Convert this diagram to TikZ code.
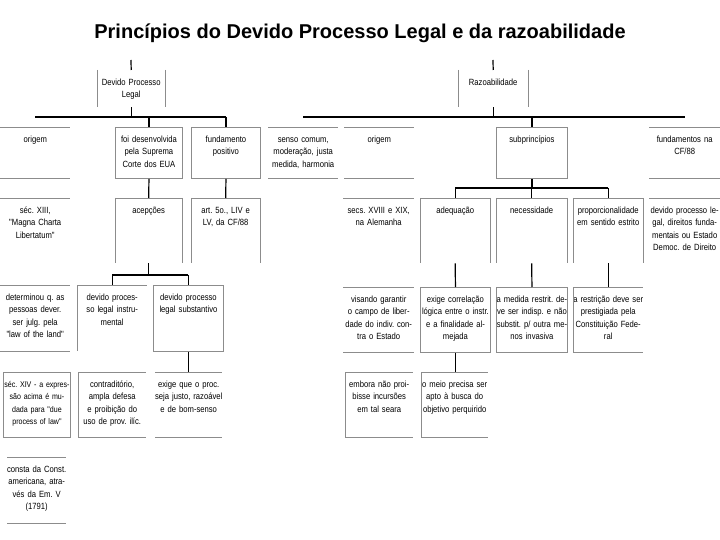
\documentclass[tikz,border=0pt]{standalone}
\usepackage{fontspec}
\setmainfont{Liberation Sans}
\newfontfamily\cellfont{Liberation Sans}[FakeStretch=0.85]
\newcommand\cellsetup{%
  \cellfont\fontsize{9}{12.5}\selectfont\frenchspacing
  \spaceskip 2.1pt plus 1pt\relax}
\usepackage{xcolor}
\definecolor{FrameGray}{HTML}{8C8C8C}
\tikzset{
  edgegray/.style={
    draw=FrameGray,
    line width=0.9pt
  },
  link/.style={
    draw=black,
    line width=1.2pt
  },
  cell/.style={
    anchor=north west,
    align=center,
    inner xsep=-5pt,
    inner ysep=3pt,
    text width=80pt,
    text height=12pt,
    text depth=#1,
    font=\cellsetup
  },
  cell/.default=47pt,
  fullbox/.style={
    draw=FrameGray,
    line width=0.9pt
  },
  topline/.style={
    append after command={
      (\tikzlastnode.north west) edge[edgegray] (\tikzlastnode.north east)
    }
  },
  botline/.style={
    append after command={
      (\tikzlastnode.south west) edge[edgegray] (\tikzlastnode.south east)
    }
  },
  leftline/.style={
    append after command={
      (\tikzlastnode.north west) edge[edgegray] (\tikzlastnode.south west)
    }
  },
  rightline/.style={
    append after command={
      (\tikzlastnode.north east) edge[edgegray] (\tikzlastnode.south east)
    }
  },
  topbot/.style={topline, botline},
  topsides/.style={topline, leftline, rightline},
  topleft/.style={topline, leftline},
  topleftbot/.style={topline, leftline, botline}
}

\begin{document}
\begin{tikzpicture}[x=1pt, y=-1pt]

  \useasboundingbox (0,0) rectangle (720,540);

  \node[
    anchor=base,
    font=\fontsize{20}{22}\selectfont\bfseries
  ] (title) at (360,39) {
    Princípios do Devido Processo Legal e da razoabilidade
  };

  % raizes
  \node[cell=19pt, text width=78pt, leftline, rightline] (dpl) at (97,70) {
    Devido Processo\\Legal
  };
  \node[cell=19pt, leftline, rightline] (razo) at (458,70) {
    Razoabilidade
  };

  % primeira linha
  \node[cell=33pt, topbot] (origemL) at (0,127) {origem};
  \node[cell=33pt, text width=77pt, fullbox] (foi) at (115,127) {
    foi desenvolvida\\pela Suprema\\Corte dos EUA
  };
  \node[cell=33pt, text width=79pt, fullbox] (fundpos) at (191,127) {
    fundamento\\positivo
  };
  \node[cell=33pt, topbot] (senso) at (268,127) {
    senso comum,\\moderação, justa\\medida, harmonia
  };
  \node[cell=33pt, topbot] (origemR) at (344,127) {origem};
  \node[cell=33pt, text width=81pt, fullbox] (subpr) at (496,127) {
    subprincípios
  };
  \node[cell=33pt, text width=81pt, topbot] (fundCF) at (649,127) {
    fundamentos na\\CF/88
  };

  % segunda linha
  \node[cell, topline] (secXIII) at (0,198) {
    séc. XIII,\\"Magna Charta\\Libertatum"
  };
  \node[cell, text width=77pt, topsides] (acep) at (115,198) {acepções};
  \node[cell, text width=79pt, topsides] (art5) at (191,198) {
    art. 5o., LIV e\\LV, da CF/88
  };
  \node[cell, text width=81pt, topline] (secsXVIII) at (343,198) {
    secs. XVIII e XIX,\\na Alemanha
  };
  \node[cell, topsides] (adeq) at (420,198) {adequação};
  \node[cell, text width=81pt, topsides] (neces) at (496,198) {
    necessidade
  };
  \node[cell, topsides] (propor) at (573,198) {
    proporcionalidade\\em sentido estrito
  };
  \node[cell, text width=81pt, topline] (dpldf) at (649,198) {
    devido processo le-\\gal, direitos funda-\\mentais ou Estado\\Democ. de Direito
  };

  % terceira linha
  \node[cell=48pt, topbot] (determ) at (0,285) {
    determinou q. as\\pessoas dever.\\ser julg. pela\\"law of the land"
  };
  \node[cell=48pt, topleft] (instr) at (77,285) {
    devido proces-\\so legal instru-\\mental
  };
  \node[cell=48pt, fullbox] (subst) at (153,285) {
    devido processo\\legal substantivo
  };
  \node[cell, text width=81pt, topbot] (visando) at (343,287) {
    visando garantir\\o campo de liber-\\dade do indiv. con-\\tra o Estado
  };
  \node[cell, fullbox] (exigecorr) at (420,287) {
    exige correlação\\lógica entre o instr.\\e a finalidade al-\\mejada
  };
  \node[cell, text width=81pt, fullbox] (medida) at (496,287) {
    a medida restrit. de-\\ve ser indisp. e não\\substit. p/ outra me-\\nos invasiva
  };
  \node[cell, topleftbot] (restr) at (573,287) {
    a restrição deve ser\\prestigiada pela\\Constituição Fede-\\ral
  };

  % quarta linha
  \node[
    cell,
    text width=77pt,
    fullbox,
    font=\cellsetup\fontsize{8.3}{12.5}\selectfont
  ] (secIV) at (3,372) {
    séc. XIV - a expres-\\são acima é mu-\\dada para "due\\process of law"
  };
  \node[cell, text width=78pt, topleftbot] (contrad) at (78,372) {
    contraditório,\\ampla defesa\\e proibição do\\uso de prov. ilíc.
  };
  \node[cell, text width=77pt, topbot] (exigeproc) at (155,372) {
    exige que o proc.\\seja justo, razoável\\e de bom-senso
  };
  \node[cell, text width=78pt, topleftbot] (embora) at (345,372) {
    embora não proi-\\bisse incursões\\em tal seara
  };
  \node[cell, text width=77pt, topleftbot] (meio) at (421,372) {
    o meio precisa ser\\apto à busca do\\objetivo perquirido
  };

  % quinta linha
  \node[cell=48pt, text width=69pt, topbot] (consta) at (7,457) {
    consta da Const.\\americana, atra-\\vés da Em. V\\(1791)
  };

  % pontos de apoio
  \coordinate (dpltop) at (131,60);
  \coordinate (razotop) at (493,60);
  \coordinate (busTop) at (0,117);
  \coordinate (busAcep) at (0,275);
  \coordinate (busSub) at (0,188);

  % ligacoes - devido processo legal
  \draw[link] (dpltop) -- (dpl.north);
  \draw[link] (dpl.south) -- (dpl.south |- busTop);
  \draw[link] (origemL.north |- busTop) -- (fundpos.north |- busTop);
  \draw[link] (foi.north |- busTop) -- (foi.north);
  \draw[link] (fundpos.north |- busTop) -- (fundpos.north);
  \draw[link] (foi.south) -- (acep.north);
  \draw[link] (fundpos.south) -- (art5.north);
  \draw[link] (acep.south) -- (acep.south |- busAcep);
  \draw[link] (instr.north |- busAcep) -- (subst.north |- busAcep);
  \draw[link] (instr.north |- busAcep) -- (instr.north);
  \draw[link] (subst.north |- busAcep) -- (subst.north);
  \draw[link] (subst.south) -- (subst.south |- exigeproc.north);

  % ligacoes - razoabilidade
  \draw[link] (razotop) -- (razo.north);
  \draw[link] (razo.south) -- (razo.south |- busTop);
  \draw[link] (senso.north |- busTop) -- (fundCF.north |- busTop);
  \draw[link] (subpr.north |- busTop) -- (subpr.north);
  \draw[link] (subpr.south) -- (subpr.south |- busSub);
  \draw[link] (adeq.north |- busSub) -- (propor.north |- busSub);
  \draw[link] (adeq.north |- busSub) -- (adeq.north);
  \draw[link] (neces.north |- busSub) -- (neces.north);
  \draw[link] (propor.north |- busSub) -- (propor.north);
  \draw[link] (adeq.south) -- (exigecorr.north);
  \draw[link] (neces.south) -- (medida.north);
  \draw[link] (propor.south) -- (restr.north);
  \draw[link] (exigecorr.south) -- (exigecorr.south |- meio.north);

\end{tikzpicture}
\end{document}
